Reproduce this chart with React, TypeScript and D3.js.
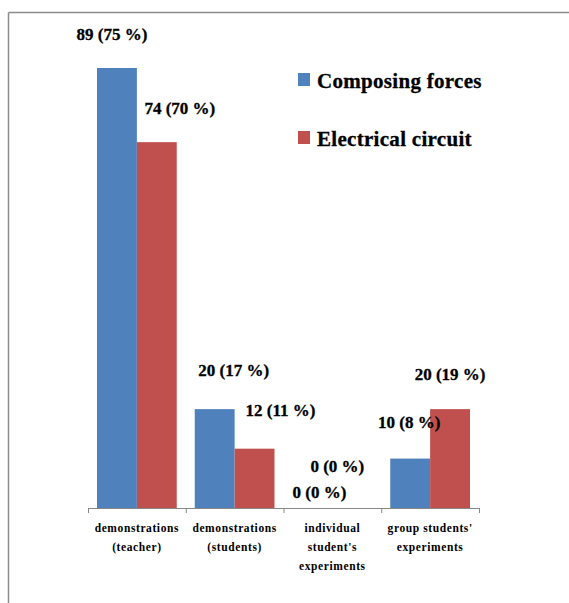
import React from "react";
import * as d3 from "d3";

const categories = [
  ["demonstrations", "(teacher)"],
  ["demonstrations", "(students)"],
  ["individual", "student's", "experiments"],
  ["group students'", "experiments"],
];
const seriesNames = ["Composing forces", "Electrical circuit"];
const composingForces = [89, 20, 0, 10];
const electricalCircuit = [74, 12, 0, 20];
const composingPct = [75, 17, 0, 8];
const electricalPct = [70, 11, 0, 19];
const colors = ["#4F81BD", "#C0504D"];
// manual label offsets (dx, dy) relative to each bar's top-centre, as placed in the source chart
const labelOffsets = [
  [[-5, -28], [19, -33], [7, -10], [-1, -31]],
  [[23, -28], [26, -33], [-15, -36], [0, -29]],
];

export default function App() {
  const W = 569, H = 603;
  const x0 = 88, x1 = 479, baseY = 508, topY = 68;
  const x = d3.scaleBand<number>().domain(d3.range(categories.length)).range([x0, x1]).paddingInner(0).paddingOuter(0);
  const bw = x.bandwidth();
  const pad = 9;
  const sub = d3.scaleBand<number>().domain([0, 1]).range([pad, bw - pad]);
  const y = d3.scaleLinear().domain([0, 89]).range([baseY, topY]);
  const values = [composingForces, electricalCircuit];
  const pcts = [composingPct, electricalPct];
  const ticks = d3.range(categories.length + 1).map((i) => x0 + i * bw);
  const font = "'Liberation Serif', 'Times New Roman', serif";

  return (
    <svg width={W} height={H} style={{ position: "absolute", left: 0, top: 0, background: "#fff" }} fontFamily={font}>
      <line x1={8.5} y1={12.5} x2={W} y2={12.5} stroke="#8c8c8c" strokeWidth={1.5} />
      <line x1={8.5} y1={12.5} x2={8.5} y2={H} stroke="#8c8c8c" strokeWidth={1.5} />
      {values.map((vals, s) =>
        vals.map((v, i) => (
          <rect key={`b${s}-${i}`} x={(x(i) as number) + (sub(s) as number)} y={y(v)} width={sub.bandwidth()} height={baseY - y(v)} fill={colors[s]} />
        ))
      )}
      <line x1={x0} x2={x1} y1={baseY + 0.5} y2={baseY + 0.5} stroke="#888" strokeWidth={1} />
      {ticks.map((t, i) => (
        <line key={`t${i}`} x1={t + 0.5} x2={t + 0.5} y1={baseY} y2={baseY + 5} stroke="#888" />
      ))}
      {values.map((vals, s) =>
        vals.map((v, i) => {
          const cx = (x(i) as number) + (sub(s) as number) + sub.bandwidth() / 2 + labelOffsets[s][i][0];
          const cy = y(v) + labelOffsets[s][i][1];
          return (
            <text key={`l${s}-${i}`} x={cx} y={cy} textAnchor="middle" fontWeight="bold" fontSize={17} stroke="#000" strokeWidth={0.3}>
              {`${v} (${pcts[s][i]} %)`}
            </text>
          );
        })
      )}
      {categories.map((lines, i) => (
        <text key={`c${i}`} textAnchor="middle" fontWeight="bold" fontSize={11.5} letterSpacing={0.6}>
          {lines.map((ln, k) => (
            <tspan key={k} x={(x(i) as number) + bw / 2} y={532 + k * 19}>{ln}</tspan>
          ))}
        </text>
      ))}
      {seriesNames.map((n, s) => (
        <g key={`lg${s}`} transform={`translate(298, ${73 + s * 58})`}>
          <rect width={12} height={13} fill={colors[s]} />
          <text x={19} y={15} fontWeight="bold" fontSize={21} letterSpacing={0.3} stroke="#000" strokeWidth={0.3}>{n}</text>
        </g>
      ))}
    </svg>
  );
}
